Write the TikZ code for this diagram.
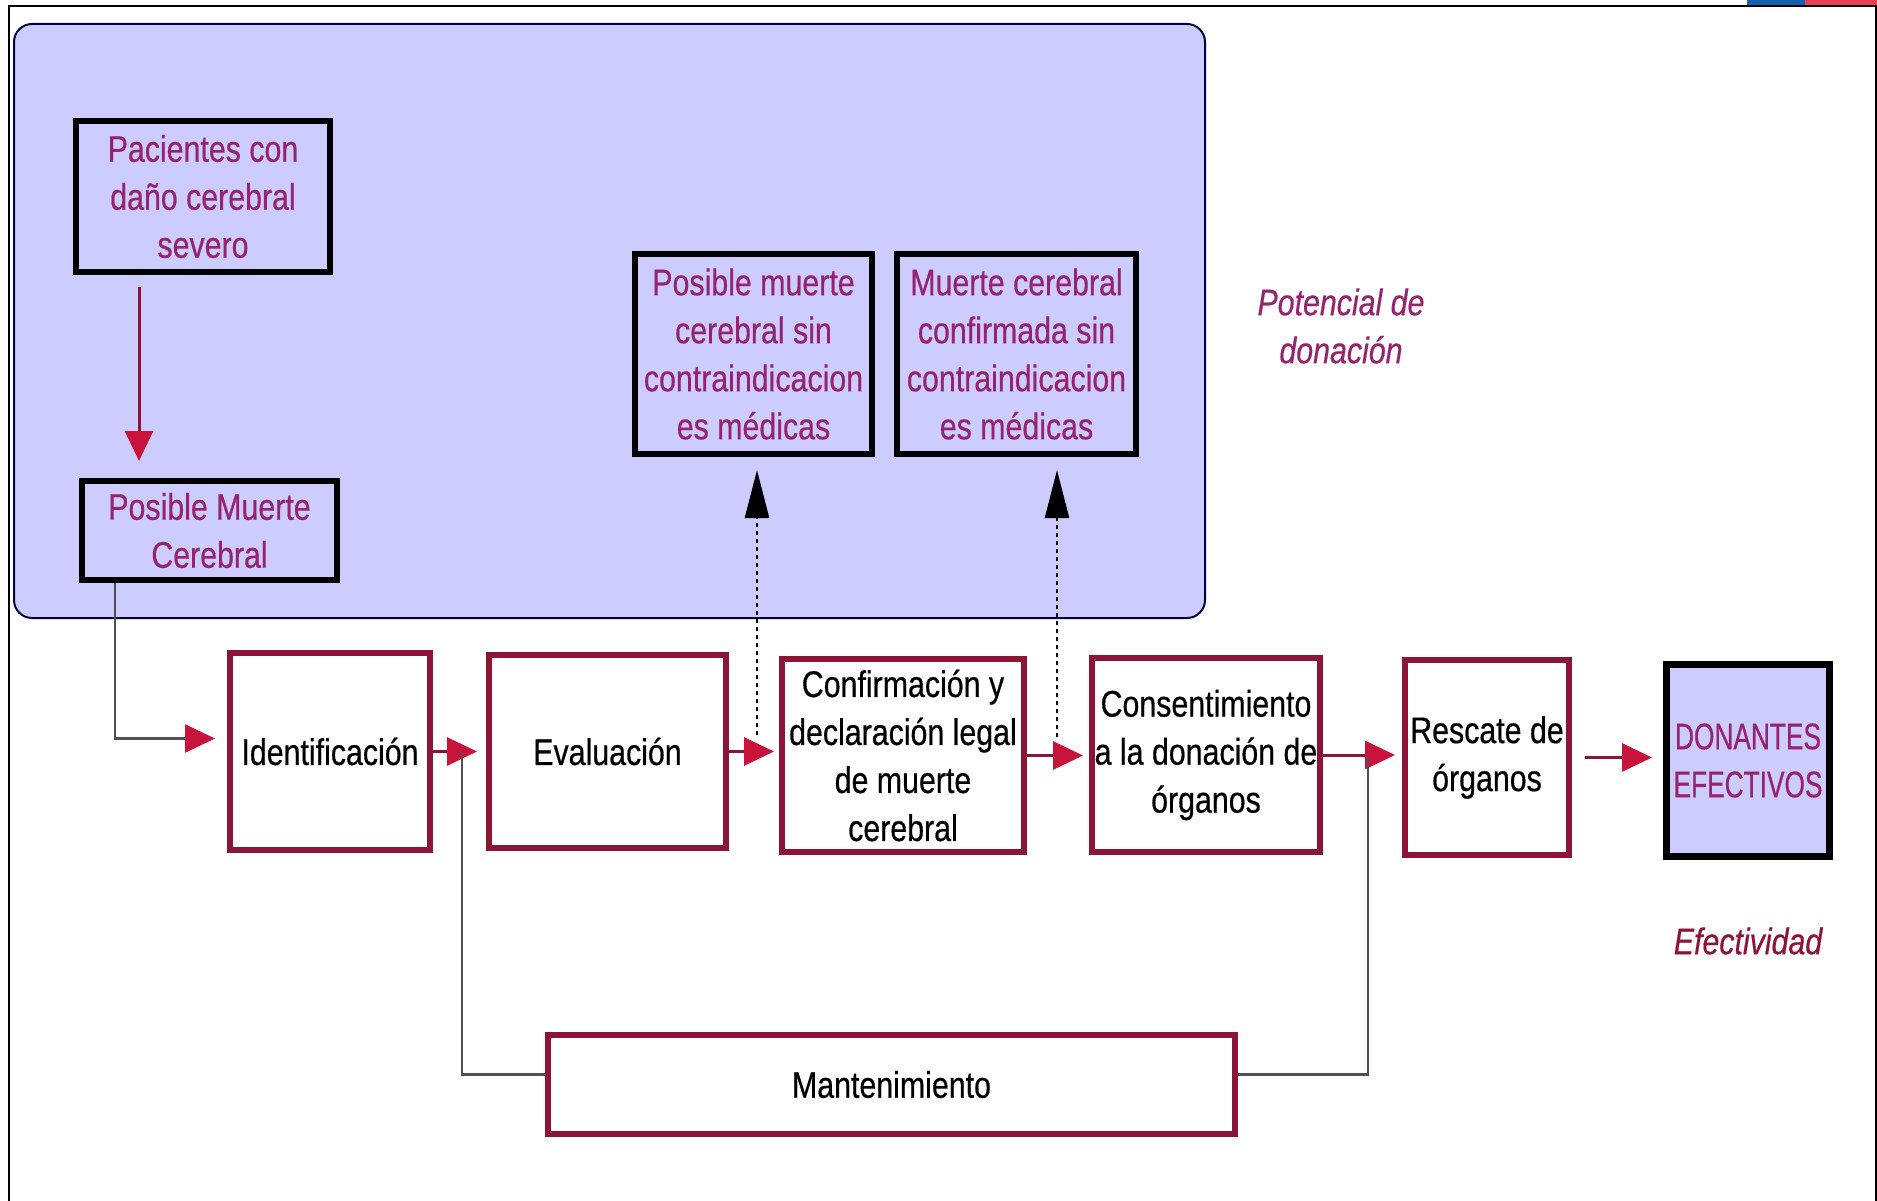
\documentclass[tikz,border=0pt]{standalone}
\usepackage{fontspec}
\usepackage{xcolor}
\usetikzlibrary{arrows.meta}
\newfontfamily\narrowfont[FakeStretch=0.82,FakeBold=0.5]{Liberation Sans}
\newfontfamily\capsfont[FakeStretch=0.71,FakeBold=0.5]{Liberation Sans}

\definecolor{lavbg}{RGB}{204,204,255}
\definecolor{boxred}{RGB}{140,20,55}
\definecolor{tipred}{RGB}{200,20,60}
\definecolor{purptext}{RGB}{150,35,110}
\definecolor{linegrey}{RGB}{80,80,80}
\definecolor{flagblue}{RGB}{21,96,176}
\definecolor{flagred}{RGB}{232,64,80}

\begin{document}
\begin{tikzpicture}[x=1pt,y=-1pt,
    darkbox/.style={draw=black,line width=6pt,fill=lavbg,text=purptext,align=center,inner sep=0pt,
        font=\narrowfont\fontsize{37}{48}\selectfont},
    redbox/.style={draw=boxred,line width=6pt,fill=white,text=black,align=center,inner sep=0pt,
        font=\narrowfont\fontsize{37}{48}\selectfont},
    mainarr/.style={draw=boxred,line width=3pt,-{Triangle[length=30pt,width=28pt,color=tipred]}},
    greyarr/.style={draw=linegrey,line width=2.5pt,-{Triangle[length=30pt,width=28pt,color=tipred]}},
    dotarr/.style={draw=black,line width=2.5pt,dash pattern=on 4pt off 4pt,-{Triangle[length=48pt,width=24pt]}},
    feed/.style={draw=linegrey,line width=2.5pt},
    tag/.style={align=center,font=\narrowfont\itshape\fontsize{37}{48}\selectfont}]

    \useasboundingbox (0,0) rectangle (1877,1201);

    % frame and flag strip
    \fill[flagblue] (1747,0) rectangle (1805,5);
    \fill[flagred] (1805,0) rectangle (1877,5);
    \draw[line width=2.5pt] (9,1201) -- (9,6) -- (1876,6) -- (1876,1201);

    % potential donation area
    \draw[line width=2pt,draw=black!75!blue,fill=lavbg,rounded corners=18pt] (14,24) rectangle (1205,618);

    \node (pac) at (203,196.5) [darkbox,minimum width=254pt,minimum height=151pt] {Pacientes con\\daño cerebral\\severo};
    \node (pmc) at (209.5,530.5) [darkbox,minimum width=255pt,minimum height=99pt] {Posible Muerte\\Cerebral};
    \node (pmsc) at (753.5,354) [darkbox,minimum width=237pt,minimum height=200pt] {Posible muerte\\cerebral sin\\contraindicacion\\es médicas};
    \node (pmcc) at (1016.5,354) [darkbox,minimum width=239pt,minimum height=200pt] {Muerte cerebral\\confirmada sin\\contraindicacion\\es médicas};

    \node (ident) at (330,751.5) [redbox,minimum width=200pt,minimum height=197pt] {Identificación};
    \node (eval) at (607.5,751.5) [redbox,minimum width=237pt,minimum height=193pt] {Evaluación};
    \node (conf) at (903,755.5) [redbox,minimum width=242pt,minimum height=193pt] {Confirmación y\\declaración legal\\de muerte\\cerebral};
    \node (cons) at (1206,755) [redbox,minimum width=228pt,minimum height=194pt] {Consentimiento\\a la donación de\\órganos};
    \node (resc) at (1487,757.5) [redbox,minimum width=164pt,minimum height=195pt] {Rescate de\\órganos};
    \node (don) at (1748,760.5) [darkbox,line width=7pt,minimum width=163pt,minimum height=192pt,
        font=\capsfont\fontsize{37}{48}\selectfont] {DONANTES\\EFECTIVOS};
    \node (mant) at (891.5,1084.5) [redbox,minimum width=687pt,minimum height=99pt] {Mantenimiento};

    \node (pot) at (1341,326) [tag,text=purptext] {Potencial de\\donación};
    \node (efec) at (1748,941) [tag,text=boxred] {Efectividad};

    \coordinate (d1) at (757,735);
    \coordinate (d2) at (1057,737);
    \coordinate (j1) at (462,752);
    \coordinate (j2) at (1368,757);

    \draw[mainarr,shorten <=12pt,shorten >=17pt] ([xshift=66pt]pac.south west) -- ([xshift=66pt]pac.south west |- pmc.north);
    \draw[greyarr,shorten >=12pt] ([xshift=36pt]pmc.south west) |- ([yshift=13pt]ident.west);
    \draw[mainarr,shorten >=9pt] (ident.east) -- (eval.west);
    \draw[mainarr,shorten >=5pt] (eval.east) -- (eval.east -| conf.west);
    \draw[mainarr,shorten >=6pt] (conf.east) -- (conf.east -| cons.west);
    \draw[mainarr,shorten >=7pt] (cons.east) -- (cons.east -| resc.west);
    \draw[mainarr,shorten <=13pt,shorten >=11pt] (resc.east) -- (resc.east -| don.west);

    \draw[dotarr,shorten >=13pt] (d1) -- (d1 |- pmsc.south);
    \draw[dotarr,shorten >=13pt] (d2) -- (d2 |- pmcc.south);

    \draw[feed] (j1) |- ([yshift=10pt]mant.west);
    \draw[feed] ([yshift=10pt]mant.east) -| (j2);

\end{tikzpicture}
\end{document}
